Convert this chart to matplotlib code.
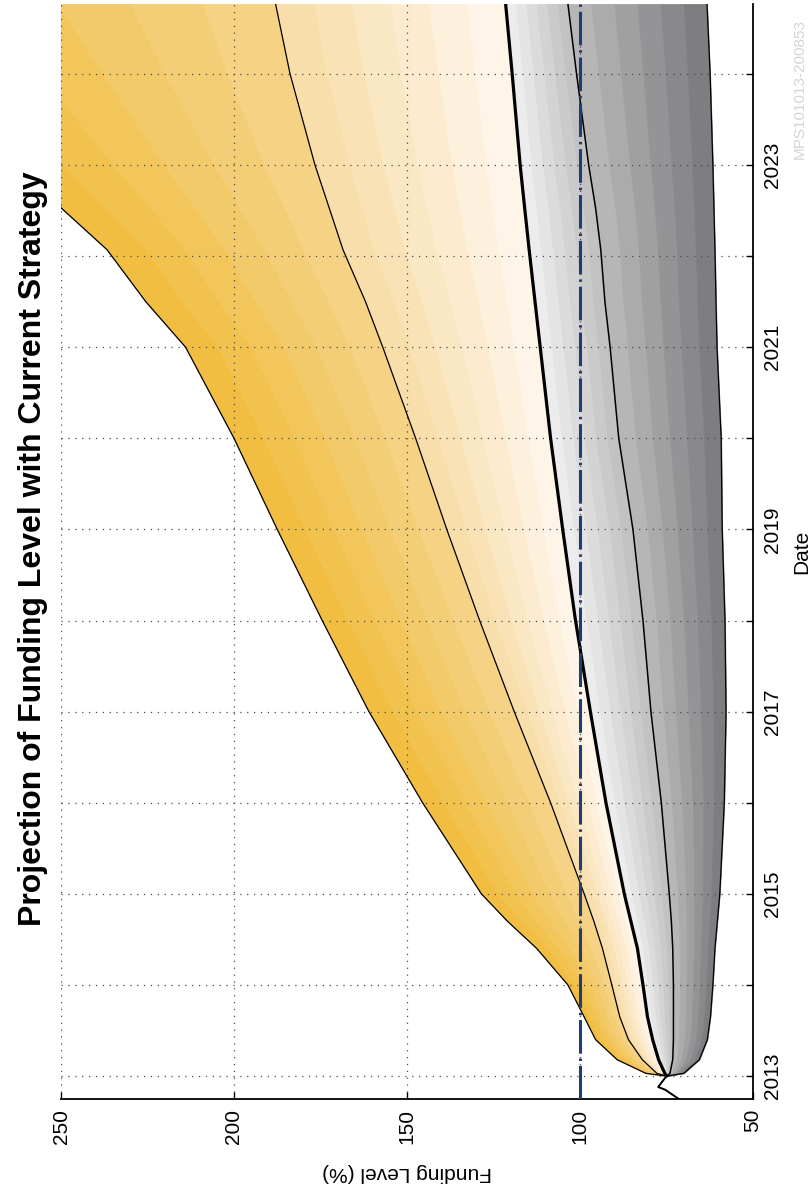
import numpy as np
import matplotlib
matplotlib.use('Agg')
import matplotlib.pyplot as plt

# ---------------- data ----------------
dates = [2013.00, 2013.03, 2013.18, 2013.40, 2013.65, 2014.00, 2014.40, 2014.70,
         2015.00, 2016.00, 2017.00, 2018.00, 2019.00, 2020.00, 2021.00, 2021.50,
         2022.07, 2022.53, 2023.00, 2024.00, 2024.77]
p_upper = [75, 81, 89.3, 95.5, 98.8, 103.5, 112.5, 121, 128.5, 145.5, 161, 174.5,
           187.5, 200, 214, 225.5, 236.7, 250, 264, 292, 314]
p_75 = [75, 77.8, 82, 86, 88.5, 90.8, 93.5, 96, 98.8, 108.5, 119, 129, 138.5,
        147.5, 157, 162, 168.5, 172.5, 176.6, 183.8, 188]
p_50 = [75, 75.5, 77.3, 79, 80.5, 81.8, 83.4, 85.3, 87.2, 92.5, 97, 101.3, 105,
        108.5, 111.5, 113, 114.7, 116, 117.3, 119.6, 121.5]
p_25 = [75, 74, 73.2, 73, 73, 73, 73.2, 73.6, 74.2, 76.5, 79.5, 81.8, 84.7, 88.8,
        91.3, 92.8, 94, 95.5, 97.5, 101, 103.5]
p_lower = [75, 70, 65.5, 63.2, 62.3, 61.6, 61, 60.3, 59.6, 58.3, 57.8, 58.1, 58.9,
           59.2, 60.4, 60.7, 61, 61.3, 61.6, 62.4, 63.3]
hist_dates = [2012.75, 2012.85, 2012.88, 2013.00]
hist_values = [71.5, 75.4, 77.4, 75.0]
target_level = 100
value_ticks = [250, 200, 150, 100, 50]
year_ticks = list(range(2013, 2025))
year_labels = [str(y) if y % 2 == 1 else '' for y in year_ticks]
title = 'Projection of Funding Level with Current Strategy'
ref_code = 'MPS101013-200853'

# ---------------- style ----------------
plt.rcParams['font.family'] = ['Liberation Sans', 'DejaVu Sans']

W, H = 810, 1191
fig = plt.figure(figsize=(W / 100, H / 100), dpi=100)
ax_left, ax_right, ax_top, ax_bottom = 61, 753, 4, 1099
ax = fig.add_axes([ax_left / W, 1 - ax_bottom / H,
                   (ax_right - ax_left) / W, (ax_bottom - ax_top) / H])

d = np.array(dates)
segments = [
    (p_upper, p_75, (241, 190, 66), (245, 210, 132)),
    (p_75, p_50, (247, 222, 170), (255, 244, 232)),
    (p_50, p_25, (236, 236, 236), (194, 194, 194)),
    (p_25, p_lower, (182, 182, 182), (126, 126, 130)),
]
N = 6
for a_, b_, c0, c1 in segments:
    a_ = np.array(a_, float)
    b_ = np.array(b_, float)
    c0 = np.array(c0) / 255.0
    c1 = np.array(c1) / 255.0
    for k in range(N):
        t0, t1 = k / N, (k + 1) / N
        col = tuple(c0 + (c1 - c0) * k / (N - 1))
        ax.fill_betweenx(d, a_ + (b_ - a_) * t0, a_ + (b_ - a_) * t1,
                         facecolor=col, edgecolor=col, lw=0.6, zorder=1)

ax.plot(p_upper, d, color='k', lw=0.9, zorder=3)
ax.plot(p_75, d, color='k', lw=0.9, zorder=3)
ax.plot(p_50, d, color='k', lw=2.3, zorder=3)
ax.plot(p_25, d, color='k', lw=1.1, zorder=3)
ax.plot(p_lower, d, color='k', lw=0.9, zorder=3)
ax.plot(hist_values, hist_dates, color='k', lw=1.4, zorder=3)
ax.axvline(target_level, color='#1f3c78', lw=2.2,
           ls=(0, (11, 1.6, 0.8, 1.6)), zorder=4)

ax.set_xlim(250, 50)
ax.set_ylim(2012.748, 2024.767)

ax.grid(True, ls=(0, (1, 4.5)), color='#4a4a4a', lw=0.9)
ax.set_axisbelow(False)

for s in ['left', 'top']:
    ax.spines[s].set_visible(False)
for s in ['right', 'bottom']:
    ax.spines[s].set_linewidth(1.3)

ax.yaxis.tick_right()
ax.xaxis.tick_bottom()
ax.tick_params(direction='in', length=5, width=1, pad=7)

ax.set_xticks(value_ticks)
ax.set_xticklabels([str(v) for v in value_ticks], rotation=90, fontsize=15)
ax.set_yticks(year_ticks)
ax.set_yticklabels(year_labels, rotation=90, va='center', fontsize=15)

ax.set_xlabel('Funding Level (%)', rotation=180, fontsize=15)
ax.xaxis.set_label_coords(0.5, -0.058)
ax.yaxis.set_label_position('right')
ax.set_ylabel('Date', rotation=90, fontsize=15)
ax.yaxis.set_label_coords(1.0564, 0.5)

fig.text(33 / W, 1 - 548.5 / H, title, rotation=90, ha='center', va='center',
         fontsize=23, fontweight='bold')
fig.text(800 / W, 1 - 89 / H, ref_code, rotation=90, ha='center', va='center',
         fontsize=11, color='#d4d4d4')

fig.savefig('out.png', dpi=100)
